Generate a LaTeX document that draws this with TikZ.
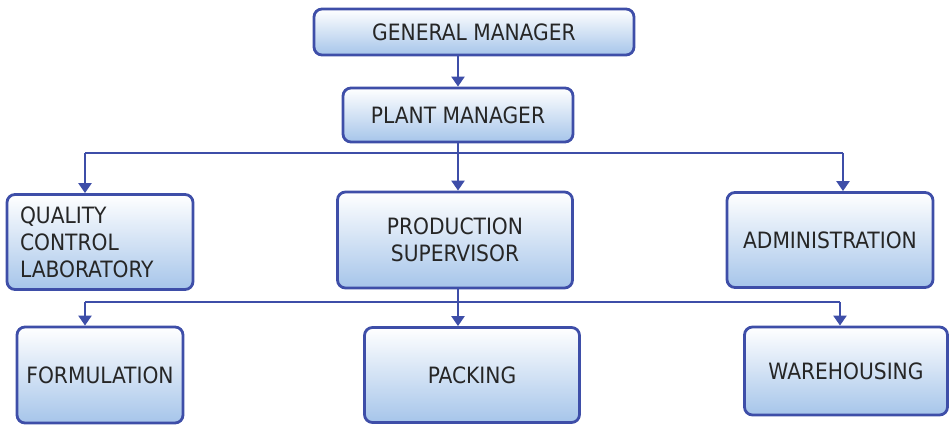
\documentclass[tikz,border=0pt]{standalone}
\usepackage{fontspec}
\setmainfont{DejaVu Sans Condensed}
\usepackage{tikz}
\usetikzlibrary{arrows.meta}
\usetikzlibrary{calc}
\definecolor{edgeblue}{RGB}{62,78,168}
\definecolor{fillblue}{RGB}{166,197,234}
\tikzstyle{unit}=[draw=edgeblue,line width=2.8pt,rounded corners=8pt,top color=white,bottom color=fillblue,text=black!85,font=\fontsize{22.5}{27}\selectfont,inner sep=0pt]
\tikzstyle{link}=[draw=edgeblue,line width=2.3pt]
\tikzstyle{down}=[link,-{Triangle[width=13pt,length=10pt]}]

\begin{document}
\begin{tikzpicture}[x=1pt,y=-1pt]
        \useasboundingbox (0,0) rectangle (951,425);

        % boxes: name/centre x/centre y/width/height/text
        \foreach \n/\x/\y/\w/\h/\t in {gm/474/32/320/46/GENERAL MANAGER,
            pm/458/115/230/54/PLANT MANAGER,
            ps/455/240/235/96/{PRODUCTION\\SUPERVISOR},
            adm/830/240/206/95/ADMINISTRATION,
            form/100/375/166/96/FORMULATION,
            pack/472/375/215/95/PACKING,
            ware/846/371/203/88/WAREHOUSING}{
          \node[unit,minimum width=\w pt,minimum height=\h pt,align=center] (\n) at (\x,\y) {\t};
        }
        \node[unit,minimum width=186pt,minimum height=95pt,text width=160pt,align=left,inner xsep=13pt] (qc) at (100,242) {QUALITY\\CONTROL\\LABORATORY};

        \coordinate (busA) at (85,153);
        \coordinate (busB) at (843,153);
        \coordinate (busC) at (85,302);
        \coordinate (busD) at (840,302);

        \draw[down] (pm.north |- gm.south) -- (pm.north);
        \draw[link] (pm.south) -- (pm.south |- busA);
        \draw[link] (busA) -- (busB);
        \draw[down] (busA) -- (busA |- qc.north);
        \draw[down] (pm.south |- busA) -- (pm.south |- ps.north);
        \draw[down] (busB) -- (busB |- adm.north);

        \draw[link] (ps.south -| pm.south) -- (pm.south |- busC);
        \draw[link] (busC) -- (busD);
        \draw[down] (busC) -- (busC |- form.north);
        \draw[down] (pm.south |- busC) -- (pm.south |- pack.north);
        \draw[down] (busD) -- (busD |- ware.north);
\end{tikzpicture}
\end{document}
